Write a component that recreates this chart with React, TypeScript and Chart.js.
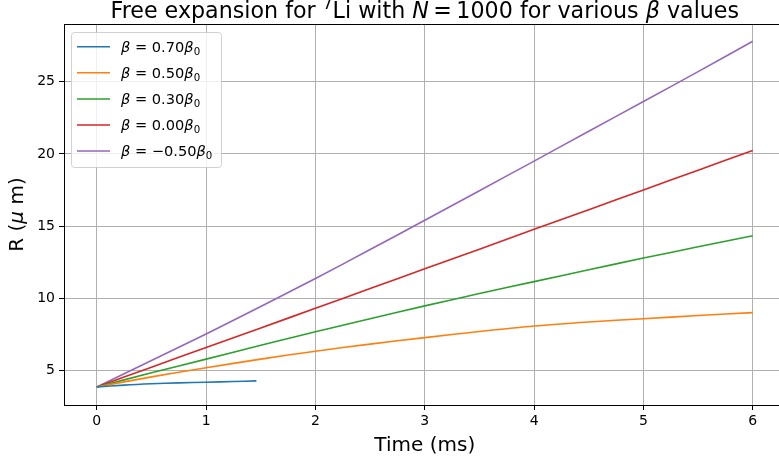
import React, { useEffect, useRef } from 'react';
import { Chart, registerables } from 'chart.js';

Chart.register(...registerables);

const FONT = '"DejaVu Sans", "Liberation Sans", sans-serif';

// Time (ms) samples
const tLong = [0, 0.5, 1, 1.5, 2, 2.5, 3, 3.5, 4, 4.5, 5, 5.5, 6];
const tBlue = [0, 0.25, 0.5, 0.75, 1, 1.25, 1.46];

// R (µm) per beta
const rBeta070 = [3.85, 3.98, 4.07, 4.13, 4.18, 4.23, 4.27];
const rBeta050 = [3.85, 4.55, 5.18, 5.78, 6.33, 6.82, 7.27, 7.69, 8.07, 8.35, 8.58, 8.8, 9.0];
const rBeta030 = [3.85, 4.83, 5.78, 6.74, 7.67, 8.58, 9.47, 10.32, 11.15, 11.97, 12.78, 13.56, 14.33];
const rBeta000 = [3.85, 5.22, 6.58, 7.94, 9.3, 10.67, 12.04, 13.4, 14.77, 16.13, 17.5, 18.87, 20.24];
const rBetaM050 = [3.85, 5.68, 7.52, 9.43, 11.36, 13.37, 15.4, 17.45, 19.5, 21.57, 23.63, 25.7, 27.8];

const betaLabels = ['0.70', '0.50', '0.30', '0.00', '\u22120.50'];
const colors = ['#1f77b4', '#ff7f0e', '#2ca02c', '#d62728', '#9467bd'];

const xTicks = [0, 1, 2, 3, 4, 5, 6];
const yTicks = [5, 10, 15, 20, 25];

type Seg = { t: string; it?: boolean; sub?: boolean; sup?: boolean };

function segFont(s: Seg, size: number) {
  const sz = s.sub || s.sup ? size * 0.7 : size;
  return `${s.it ? 'italic ' : ''}${sz}px ${FONT}`;
}
function measureRich(ctx: CanvasRenderingContext2D, segs: Seg[], size: number) {
  let w = 0;
  for (const s of segs) {
    ctx.font = segFont(s, size);
    w += ctx.measureText(s.t).width;
  }
  return w;
}
function drawRich(ctx: CanvasRenderingContext2D, segs: Seg[], x: number, y: number, size: number) {
  let cx = x;
  for (const s of segs) {
    ctx.font = segFont(s, size);
    const dy = s.sub ? size * 0.22 : s.sup ? -size * 0.4 : 0;
    ctx.fillText(s.t, cx, y + dy);
    cx += ctx.measureText(s.t).width;
  }
}

const titleSegs: Seg[] = [
  { t: 'Free expansion for ' },
  { t: '7', sup: true },
  { t: 'Li with ' },
  { t: 'N', it: true },
  { t: '\u2009=\u20091000 for various ' },
  { t: '\u03b2', it: true },
  { t: ' values' },
];
const yTitleSegs: Seg[] = [{ t: 'R (' }, { t: '\u03bc', it: true }, { t: ' m)' }];

const richPlugin = {
  id: 'richText',
  afterDraw(chart: any) {
    const ctx: CanvasRenderingContext2D = chart.ctx;
    const a = chart.chartArea;
    const xs = chart.scales.x;
    ctx.save();
    // top spine
    ctx.strokeStyle = '#000';
    ctx.lineWidth = 1;
    ctx.beginPath();
    ctx.moveTo(a.left, Math.round(a.top) + 0.5);
    ctx.lineTo(a.right, Math.round(a.top) + 0.5);
    ctx.stroke();

    // legend
    const lx = a.left + 7.5, ly = a.top + 8.5, lw = 150, lh = 135;
    ctx.beginPath();
    (ctx as any).roundRect(lx, ly, lw, lh, 3);
    ctx.fillStyle = 'rgba(255,255,255,0.8)';
    ctx.fill();
    ctx.strokeStyle = 'rgba(204,204,204,0.9)';
    ctx.stroke();
    ctx.textBaseline = 'alphabetic';
    ctx.textAlign = 'left';
    betaLabels.forEach((b, i) => {
      const cy = a.top + 22.7 + i * 26.1;
      ctx.strokeStyle = colors[i];
      ctx.lineWidth = 1.5;
      ctx.beginPath();
      ctx.moveTo(a.left + 13, cy);
      ctx.lineTo(a.left + 46, cy);
      ctx.stroke();
      ctx.fillStyle = '#000';
      drawRich(ctx, [
        { t: '\u03b2', it: true },
        { t: ' = ' + b },
        { t: '\u03b2', it: true },
        { t: '0', sub: true },
      ], a.left + 57, cy + 5, 14.6);
    });

    // title centered over full axes width
    const fullRight = xs.getPixelForValue(6.3);
    const cxT = (a.left + fullRight) / 2;
    const tw = measureRich(ctx, titleSegs, 22.2);
    ctx.fillStyle = '#000';
    drawRich(ctx, titleSegs, cxT - tw / 2, 17.5, 22.2);

    // x axis title
    ctx.font = `20px ${FONT}`;
    ctx.textAlign = 'center';
    ctx.textBaseline = 'alphabetic';
    ctx.fillText('Time (ms)', cxT, 451);

    // y axis title
    ctx.save();
    ctx.translate(18, (a.top + a.bottom) / 2);
    ctx.rotate(-Math.PI / 2);
    ctx.textAlign = 'left';
    ctx.textBaseline = 'middle';
    const yw = measureRich(ctx, yTitleSegs, 20);
    drawRich(ctx, yTitleSegs, -yw / 2, 0, 20);
    ctx.restore();
    ctx.restore();
  },
};

export default function App() {
  const ref = useRef<HTMLCanvasElement>(null);
  useEffect(() => {
    if (!ref.current) return;
    const mk = (t: number[], r: number[]) => t.map((x, i) => ({ x, y: r[i] }));
    const series = [
      mk(tBlue, rBeta070),
      mk(tLong, rBeta050),
      mk(tLong, rBeta030),
      mk(tLong, rBeta000),
      mk(tLong, rBetaM050),
    ];
    const chart = new Chart(ref.current, {
      type: 'line',
      data: {
        datasets: series.map((d, i) => ({
          label: 'beta = ' + betaLabels[i],
          data: d,
          borderColor: colors[i],
          backgroundColor: colors[i],
          borderWidth: 1.6,
          pointRadius: 0,
          tension: 0.3,
          fill: false,
        })),
      },
      options: {
        animation: false,
        responsive: true,
        maintainAspectRatio: false,
        layout: { padding: { top: 24, left: 0, right: 0, bottom: 0 } },
        plugins: { legend: { display: false }, title: { display: false }, tooltip: { enabled: false } },
        scales: {
          x: {
            type: 'linear',
            min: -0.3,
            max: 6.24,
            afterBuildTicks: (s: any) => { s.ticks = xTicks.map((v) => ({ value: v })); },
            afterFit: (s: any) => { s.height = 54; },
            ticks: { font: { family: FONT, size: 14 }, color: '#000', padding: 3 },
            grid: { color: '#b0b0b0', tickColor: '#000', tickLength: 5, lineWidth: 1 },
            border: { display: true, color: '#000', width: 1 },
          },
          y: {
            type: 'linear',
            min: 2.6,
            max: 29.0,
            afterBuildTicks: (s: any) => { s.ticks = yTicks.map((v) => ({ value: v })); },
            afterFit: (s: any) => { s.width = 64; },
            ticks: { font: { family: FONT, size: 14 }, color: '#000', padding: 4 },
            grid: { color: '#b0b0b0', tickColor: '#000', tickLength: 5, lineWidth: 1 },
            border: { display: true, color: '#000', width: 1 },
          },
        },
      },
      plugins: [richPlugin],
    } as any);
    return () => chart.destroy();
  }, []);
  return (
    <div style={{ position: 'fixed', left: 0, top: 0, width: 779, height: 459, background: '#fff' }}>
      <canvas ref={ref} />
    </div>
  );
}
